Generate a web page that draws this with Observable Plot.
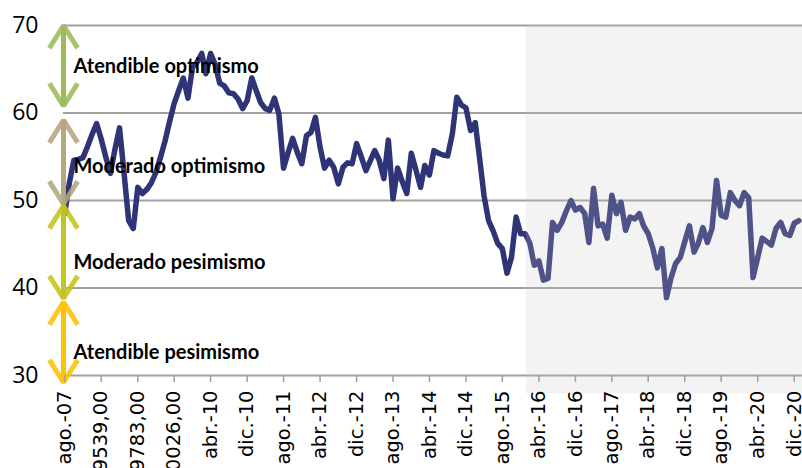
<!DOCTYPE html>
<html><head><meta charset="utf-8">
<script src="https://cdn.jsdelivr.net/npm/d3@7"></script>
<script src="https://cdn.jsdelivr.net/npm/@observablehq/plot@0.6"></script>
<style>html,body{margin:0;padding:0;background:#fff;overflow:hidden}</style>
</head><body><div id="chart"></div>
<script>
// Monthly series, starting August 2007
const startYear = 2007, startMonthIndex = 7;
const values = [
48.5,52,54.6,54.7,54.9,56.2,57.6,58.8,57,55,53.1,55.8,58.3,53,47.7,46.8,51.5,50.8,51.3,52,
53.2,54.9,56.8,59,61.1,62.6,64,61.7,65.2,65.8,66.8,64.5,66.8,65.6,63.4,63.1,62.3,62.2,61.6,60.5,
61.4,64,62.5,61.2,60.5,60.3,61.7,59.9,53.7,55.5,57.1,55.5,54.2,57.4,57.8,59.5,56.1,53.7,54.6,53.8,
51.9,53.8,54.3,54.2,56.5,55,53.4,54.5,55.7,54.6,52.5,56.9,50.2,53.7,52.2,50.8,55.4,53.5,51.5,54,
52.9,55.7,55.4,55.2,55.1,57.6,61.8,60.9,60.6,58,58.9,55,50.5,47.7,46.5,45.1,44.5,41.7,43.5,48.1,
46.2,46.2,45.1,42.6,43.1,40.9,41.1,47.5,46.6,47.5,48.8,50,48.9,49.2,48.5,45.2,51.4,47.1,47.3,45.7,
50.6,48.5,49.8,46.6,48.1,47.9,48.5,47.1,46.2,44.6,42.3,44.5,38.9,41.2,42.8,43.5,45.3,47.1,44.1,45.1,
46.9,45.2,46.8,52.3,48.3,48.1,50.9,50,49.4,50.9,50.3,41.2,43.5,45.7,45.3,44.9,46.8,47.5,46.2,46,
47.4,47.7
];
const tickMonthOffsets = [0,8,16,24,32,40,48,56,64,72,80,88,96,104,112,120,128,136,144,152,160];
const tickLabels = ["ago.-07","39539,00","39783,00","40026,00","abr.-10","dic.-10","ago.-11","abr.-12","dic.-12","ago.-13","abr.-14","dic.-14","ago.-15","abr.-16","dic.-16","ago.-17","abr.-18","dic.-18","ago.-19","abr.-20","dic.-20"];
const yTicks = [30,40,50,60,70];
const zoneNames = ["Atendible optimismo","Moderado optimismo","Moderado pesimismo","Atendible pesimismo"];
const zoneTop = [70, 59.2, 49.4, 38.4];
const zoneBottom = [60.8, 49.6, 38.8, 29.2];
const zoneLabelY = [65.3, 53.9, 42.9, 32.6];
const zoneColors = ["#9bbb59","#b2a67c","#c4c41e","#ffc000"];
const xDomain = [new Date(Date.UTC(2007,6,24)), new Date(Date.UTC(2021,0,25))];
const shadeStart = new Date(Date.UTC(2016,0,8));
const shadeBottom = 27.9;

const start = new Date(Date.UTC(startYear, startMonthIndex, 1));
const series = values.map((v,i) => ({date: d3.utcMonth.offset(start, i), value: v}));
const tickDates = tickMonthOffsets.map(o => d3.utcMonth.offset(start, o));
const axisX0 = xDomain[0];

const arrows = [];
zoneNames.forEach((n,i) => {
  arrows.push({x: axisX0, y1: zoneBottom[i], y2: zoneTop[i], c: zoneColors[i]});
  arrows.push({x: axisX0, y1: zoneTop[i], y2: zoneBottom[i], c: zoneColors[i]});
});
const zoneLabels = zoneNames.map((n,i) => ({x: axisX0, y: zoneLabelY[i], name: n}));

const chart = Plot.plot({
  width: 802,
  height: 468,
  marginTop: 25,
  marginBottom: 93,
  marginLeft: 63,
  marginRight: 0,
  style: {fontFamily: "Open Sans", background: "#fff", overflow: "visible"},
  x: {type: "utc", domain: xDomain},
  y: {domain: [30, 70]},
  marks: [
    Plot.ruleY(yTicks, {stroke: "#a0a0a0", strokeWidth: 2}),
    Plot.line(series, {x: "date", y: "value", stroke: "#2e3476", strokeWidth: 5.5, strokeLinejoin: "round", strokeLinecap: "round"}),
    Plot.rect([{}], {x1: () => shadeStart, x2: () => xDomain[1], y1: () => shadeBottom, y2: () => 70, fill: "#c7c7c7", fillOpacity: 0.215}),
    Plot.arrow(arrows, {x1: "x", x2: "x", y1: "y1", y2: "y2", stroke: "c", strokeWidth: 5, strokeOpacity: 0.88, headAngle: 64, headLength: 8, strokeLinecap: "butt"}),
    Plot.text(zoneLabels, {x: "x", y: "y", text: "name", textAnchor: "start", dx: 10, fontWeight: "bold", fontSize: 20, fontFamily: "Lato", fill: "#000"}),
    Plot.axisY({ticks: yTicks, tickSize: 0, tickPadding: 25, fontSize: 23, fontFamily: "Open Sans", label: null, fill: "#000"}),
    Plot.axisX({ticks: tickDates, tickFormat: (d) => tickLabels[tickDates.findIndex(t => +t === +d)], tickRotate: -90, tickSize: 7, tickPadding: 8, stroke: "#a0a0a0", strokeWidth: 1.5, fontSize: 19.5, fontFamily: "DejaVu Sans", label: null, fill: "#000"})
  ]
});
document.getElementById("chart").appendChild(chart);
</script>
</body></html>
